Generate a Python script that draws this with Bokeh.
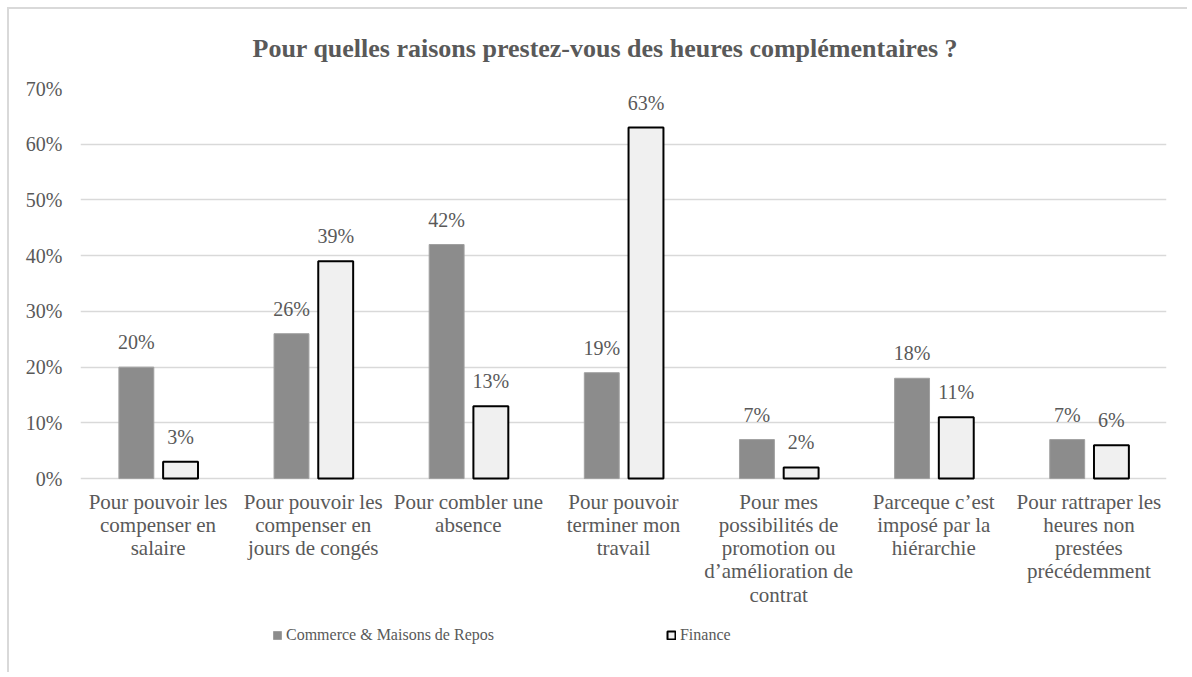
from bokeh.plotting import figure
from bokeh.models import ColumnDataSource, FixedTicker, Legend, LegendItem, Range1d, PrintfTickFormatter
from bokeh.transform import dodge
from bokeh.core.properties import value
from bokeh.embed import file_html
from bokeh.resources import INLINE

categories = [
    "Pour pouvoir les\ncompenser en\nsalaire",
    "Pour pouvoir les\ncompenser en\njours de congés",
    "Pour combler une\nabsence",
    "Pour pouvoir\nterminer mon\ntravail",
    "Pour mes\npossibilités de\npromotion ou\nd\u2019amélioration de\ncontrat",
    "Parceque c\u2019est\nimposé par la\nhiérarchie",
    "Pour rattraper les\nheures non\nprestées\nprécédemment",
]
commerce = [20, 26, 42, 19, 7, 18, 7]
finance = [3, 39, 13, 63, 2, 11, 6]
y_ticks = [0, 10, 20, 30, 40, 50, 60, 70]
series_names = ["Commerce & Maisons de Repos", "Finance"]
title_text = "Pour quelles raisons prestez-vous des heures complémentaires ?"

FONT = "Liberation Serif"
TXT = "#595959"

xs = [i + 0.5 for i in range(len(categories))]
src = ColumnDataSource(dict(
    x=xs,
    commerce=commerce,
    finance=finance,
    clab=[f"{v}%" for v in commerce],
    flab=[f"{v}%" for v in finance],
    cat=categories,
    zero=[0] * len(categories),
))

# frame extends below zero so the category labels and legend sit inside it
p = figure(width=1180, height=665, output_backend="svg", toolbar_location=None,
           x_range=Range1d(0, len(categories)), y_range=Range1d(-34.8, 70),
           min_border_left=71, min_border_right=23, min_border_top=79, min_border_bottom=2)
p.styles = {"margin-left": "7px", "margin-top": "7px",
            "border-left": "2px solid #d9d9d9", "border-top": "2px solid #d9d9d9"}

p.title.text = title_text
p.title.text_font = FONT
p.title.text_font_size = "26px"
p.title.text_font_style = "bold"
p.title.text_color = TXT
p.title.align = "left"
p.title.offset = 172
p.title.vertical_align = "top"
p.title.standoff = 48

r1 = p.vbar(x=dodge("x", -0.14, range=p.x_range), top="commerce", width=0.225, source=src,
            fill_color="#8c8c8c", line_color="#a0a0a0", line_width=1)
r2 = p.vbar(x=dodge("x", 0.145, range=p.x_range), top="finance", width=0.225, source=src,
            fill_color="#f0f0f0", line_color="#000000", line_width=2)

for col, lab, off in (("commerce", "clab", -0.14), ("finance", "flab", 0.145)):
    p.text(x=dodge("x", off, range=p.x_range), y=col, text=lab, source=src,
           text_align="center", text_baseline="bottom", y_offset=-14,
           text_font=value(FONT), text_font_size="20px", text_color=TXT)

# category labels (x axis labels) under the zero line
p.text(x="x", y="zero", text="cat", source=src, text_align="center", text_baseline="top",
       y_offset=11, text_font=value(FONT), text_font_size="21px", text_color=TXT,
       text_line_height=0.97)

p.outline_line_color = None
p.xgrid.grid_line_color = None
p.ygrid.ticker = FixedTicker(ticks=y_ticks)
p.ygrid.grid_line_color = "#d9d9d9"
p.ygrid.grid_line_width = 1.5

p.yaxis.ticker = FixedTicker(ticks=y_ticks)
p.yaxis.formatter = PrintfTickFormatter(format="%d%%")
p.yaxis.axis_line_color = None
p.yaxis.major_tick_line_color = None
p.yaxis.minor_tick_line_color = None
p.yaxis.major_label_standoff = 12
p.yaxis.major_label_text_font = FONT
p.yaxis.major_label_text_font_size = "20px"
p.yaxis.major_label_text_color = TXT

p.xaxis.visible = False

legend = Legend(items=[LegendItem(label=series_names[0], renderers=[r1]),
                       LegendItem(label=series_names[1], renderers=[r2])],
                orientation="horizontal", location=(192, 28))
legend.spacing = 172
legend.padding = 0
legend.margin = 0
legend.glyph_width = 10
legend.glyph_height = 10
legend.label_standoff = 4
legend.label_height = 18
legend.label_text_font = FONT
legend.label_text_font_size = "16px"
legend.label_text_color = TXT
legend.border_line_color = None
legend.background_fill_alpha = 0
p.add_layout(legend, "center")

open("out.html", "w").write(file_html(p, INLINE))
